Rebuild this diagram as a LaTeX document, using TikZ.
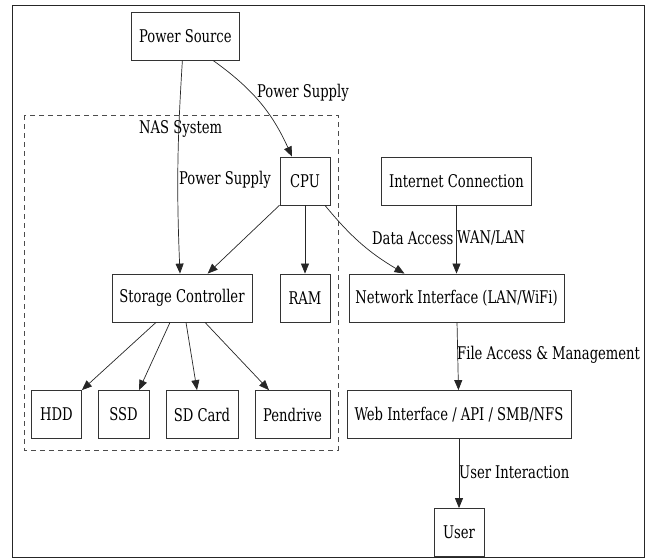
\documentclass[tikz,border=0pt]{standalone}
\usepackage{fontspec}
\setmainfont[FakeStretch=0.835]{DejaVu Serif Condensed}
\usetikzlibrary{arrows.meta}

\tikzset{
	box/.style={draw=black!80, line width=0.8pt, minimum height=48, inner sep=0pt, font=\fontsize{17.5}{20}\selectfont},
	lbl/.style={inner sep=0pt, anchor=west, font=\fontsize{17.5}{20}\selectfont},
	arr/.style={draw=black!85, line width=0.7pt, -{Triangle[length=10pt, width=8pt]}},
}

\begin{document}
\begin{tikzpicture}[x=1pt, y=-1pt]
		\useasboundingbox (0,0) rectangle (646,560);
		\draw[black!85, line width=1pt] (12,5) rectangle (644,557);
		\draw[black!70, line width=0.8pt, dash pattern=on 5pt off 4pt] (24,115) rectangle (338,450);
		\node (0) [box, minimum width=108] at (185.4,36) {Power Source};
		\node (1) [box, minimum width=50] at (305,181) {CPU};
		\node (2) [box, minimum width=150] at (456.5,181) {Internet Connection};
		\node (3) [box, minimum width=140] at (182,298) {Storage Controller};
		\node (4) [box, minimum width=50] at (305,298) {RAM};
		\node (5) [box, minimum width=215] at (456.5,298) {Network Interface (LAN/WiFi)};
		\node (6) [box, minimum width=50] at (56.5,414.5) {HDD};
		\node (7) [box, minimum width=51] at (123.5,414.5) {SSD};
		\node (8) [box, minimum width=72] at (202,414.5) {SD Card};
		\node (9) [box, minimum width=75] at (292.5,414.5) {Pendrive};
		\node (10) [box, minimum width=224] at (459,414.5) {Web Interface / API / SMB/NFS};
		\node (11) [box, minimum width=50] at (459,532.5) {User};
		\node (12) [lbl] at (257,93) {Power Supply};
		\node (13) [lbl] at (139,129) {NAS System};
		\node (14) [lbl] at (179,180) {Power Supply};
		\node (15) [lbl] at (372,238) {Data Access};
		\node (16) [lbl] at (457,238) {WAN/LAN};
		\node (17) [lbl] at (457,355) {File Access \& Management};
		\node (18) [lbl] at (459,472) {User Interaction};
		\draw[arr] ([xshift=-3]0.south) to[bend right=3] ([xshift=-2]3.north);
		\draw[arr] ([xshift=27.6]0.south) to[bend left=15] ([xshift=-13]1.north);
		\draw[arr] (1) -- (3);
		\draw[arr] (1) -- (4);
		\draw[arr] ([xshift=20]1.south) to[bend right=10] ([xshift=-52]5.north);
		\draw[arr] (2) -- (5);
		\draw[arr] ([xshift=-26]3.south) -- (6.north east);
		\draw[arr] ([xshift=-12]3.south) -- ([xshift=15.5]7.north);
		\draw[arr] ([xshift=4]3.south) -- ([xshift=-5]8.north);
		\draw[arr] ([xshift=23]3.south) -- ([xshift=-23.5]9.north);
		\draw[arr] (5) -- (10);
		\draw[arr] (10) -- (11);
	\end{tikzpicture}
\end{document}
